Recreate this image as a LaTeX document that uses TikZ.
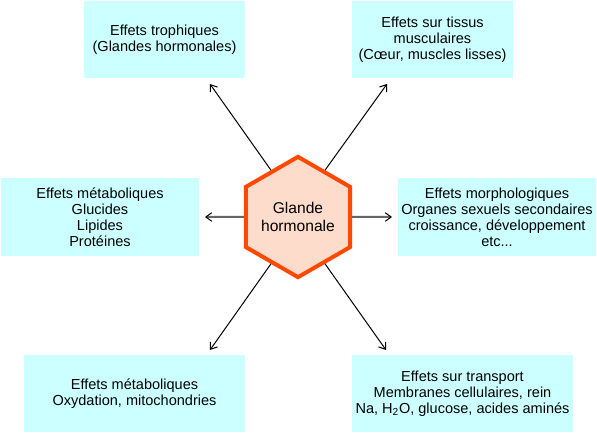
\documentclass[tikz,border=0pt]{standalone}
\usepackage{fontspec}
\setmainfont{Liberation Sans}
\usetikzlibrary{shapes.geometric,arrows.meta}

\definecolor{boxcyan}{RGB}{204,255,255}
\definecolor{hexline}{RGB}{255,72,0}
\definecolor{hexfill}{RGB}{253,220,203}

\tikzset{every picture/.style={line width=0.75pt}}
\tikzset{
  effet/.style={fill=boxcyan, draw=none, align=center, inner sep=0pt,
    font=\fontsize{10.9}{12}\selectfont},
  glande/.style={regular polygon, regular polygon sides=6, shape border rotate=30,
    minimum size=87.75pt, inner sep=0pt, draw=hexline, fill=hexfill, line width=3pt,
    align=center, font=\fontsize{11.7}{13.3}\selectfont},
  fleche/.style={-{Straight Barb[length=4.5pt,width=6.5pt]}, line width=0.75pt},
  flechex/.style={-{Straight Barb[length=4.5pt,width=6.5pt,color=black,line width=0.75pt]},
    draw=black!60, line width=1.5pt}
}

\begin{document}
\begin{tikzpicture}[x=0.75pt,y=0.75pt,yscale=-1,xscale=1]
\useasboundingbox (0,0) rectangle (597,434);

%Shape: Hexagon
\node[glande] (hex) at (298,217) {Glande\\hormonale};

%Shape: Boxes
\node[effet, minimum width=120.75pt, minimum height=57.75pt] (troph) at (164.5,39.5) {Effets trophiques\\(Glandes hormonales)};
\node[effet, minimum width=120.75pt, minimum height=57.75pt] (muscle) at (432.5,39.5) {Effets sur tissus\\musculaires\\(Cœur, muscles lisses)};
\node[effet, minimum width=148.5pt, minimum height=58.5pt] (metab) at (100,217) {Effets métaboliques\\Glucides\\Lipides\\Protéines};
\node[effet, minimum width=148.5pt, minimum height=58.5pt] (morpho) at (497,217) {Effets morphologiques\\Organes sexuels secondaires\\croissance, développement\\etc...};
\node[effet, minimum width=165.75pt, minimum height=57.75pt] (oxyd) at (134.5,393.5) {Effets métaboliques\\Oxydation, mitochondries};
\node[effet, minimum width=165.75pt, minimum height=57.75pt] (transp) at (462.5,393.5) {Effets sur transport\\Membranes cellulaires, rein\\Na, H\textsubscript{2}O, glucose, acides aminés};

%Arrow ends
\coordinate (tipTroph) at (210,84);
\coordinate (tipMuscle) at (387,84);
\coordinate (tipMetab) at (205,217);
\coordinate (tipMorpho) at (392,217);
\coordinate (tipOxyd) at (210,350);
\coordinate (tipTransp) at (386,350);

%Straight Lines
\draw[fleche] (hex.120) -- (tipTroph);
\draw[fleche] (hex.60) -- (tipMuscle);
\draw[flechex] (hex.180) -- (tipMetab);
\draw[flechex] (hex.0) -- (tipMorpho);
\draw[fleche] (hex.240) -- (tipOxyd);
\draw[fleche] (hex.300) -- (tipTransp);

\end{tikzpicture}
\end{document}
